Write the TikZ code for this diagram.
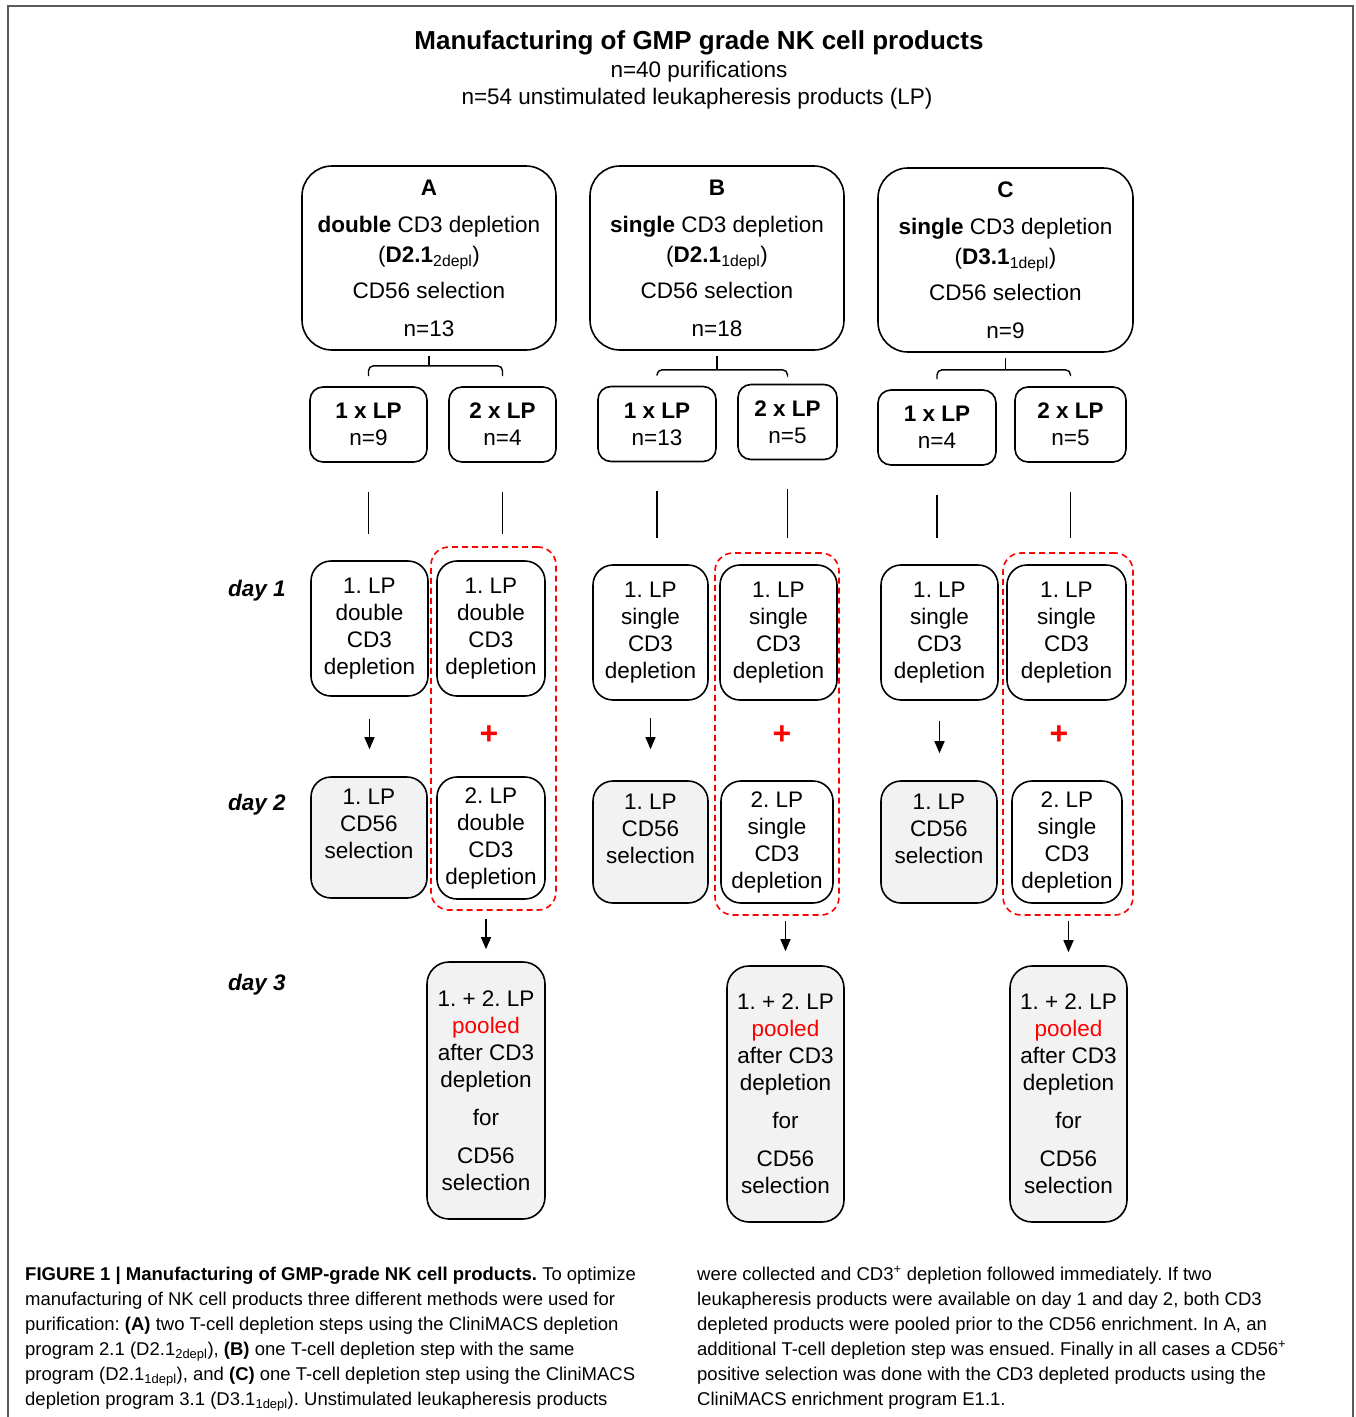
\documentclass[tikz,border=0pt]{standalone}
\usepackage{fontspec}
\setmainfont{Liberation Sans}
\usetikzlibrary{arrows.meta}
\definecolor{boxgrey}{RGB}{242,242,242}
\definecolor{framegrey}{RGB}{90,90,90}
\frenchspacing

\begin{document}
\begin{tikzpicture}[x=1pt, y=-1pt,
    box/.style={draw, line width=1.6pt, align=center, inner sep=0pt, font=\fontsize{22.5}{27}\selectfont},
    topbox/.style={box, rounded corners=30pt},
    lpbox/.style={box, rounded corners=13pt, minimum height=75pt},
    daybox/.style={box, rounded corners=20pt},
    selbox/.style={daybox, fill=boxgrey},
    poolbox/.style={box, rounded corners=22pt, fill=boxgrey},
    pool/.style={draw=red, dash pattern=on 6pt off 4pt, line width=1.6pt, rounded corners=18pt, inner sep=0pt},
    daylabel/.style={font=\fontsize{22.5}{27}\selectfont\bfseries\itshape},
    plus/.style={text=red, font=\fontsize{32}{32}\selectfont\bfseries},
    brk/.style={line width=1.4pt, rounded corners=5pt},
    gap/.style={line width=1.6pt},
    arr/.style={line width=1.4pt, -{Triangle[length=12pt, width=10pt]}},
    title/.style={anchor=base, font=\fontsize{26}{30}\selectfont\bfseries},
    subtitle/.style={anchor=base, font=\fontsize{22.5}{27}\selectfont},
    captext/.style={anchor=base west, inner sep=0pt, font=\fontsize{18.5}{25}\selectfont}
  ]
  \useasboundingbox (0,0) rectangle (1356,1417);

  % Frame
  \draw[framegrey, line width=1.5pt] (8,1417) -- (8,6) -- (1353,6) -- (1353,1417);

  % Title
  \node[title] (title) at (699,49) {Manufacturing of GMP grade NK cell products};
  \node[subtitle] (sub1) at (699,77) {n=40 purifications};
  \node[subtitle] (sub2) at (697,104) {n=54 unstimulated leukapheresis products (LP)};

  % Methods
  \node[topbox, minimum width=254pt, minimum height=184pt] (topA) at (429,258)
    {\textbf{A}\\[10pt]\textbf{double} CD3 depletion\\[3pt](\textbf{D2.1}\textsubscript{2depl})\\[9pt]CD56 selection\\[11pt]n=13};
  \node[topbox, minimum width=254pt, minimum height=184pt] (topB) at (717,258)
    {\textbf{B}\\[10pt]\textbf{single} CD3 depletion\\[3pt](\textbf{D2.1}\textsubscript{1depl})\\[9pt]CD56 selection\\[11pt]n=18};
  \node[topbox, minimum width=255pt, minimum height=184pt] (topC) at (1005.5,260)
    {\textbf{C}\\[10pt]\textbf{single} CD3 depletion\\[3pt](\textbf{D3.1}\textsubscript{1depl})\\[9pt]CD56 selection\\[11pt]n=9};

  % Number of LP
  \node[lpbox, minimum width=117pt] (lpA1) at (368.5,424.5) {\textbf{1 x LP}\\n=9};
  \node[lpbox, minimum width=107pt] (lpA2) at (502.5,424.5) {\textbf{2 x LP}\\n=4};
  \node[lpbox, minimum width=118pt] (lpB1) at (657,424) {\textbf{1 x LP}\\n=13};
  \node[lpbox, minimum width=99pt] (lpB2) at (787.5,422) {\textbf{2 x LP}\\n=5};
  \node[lpbox, minimum width=118pt] (lpC1) at (937,427.5) {\textbf{1 x LP}\\n=4};
  \node[lpbox, minimum width=111pt] (lpC2) at (1070.5,424.5) {\textbf{2 x LP}\\n=5};

  % Brackets
  \foreach \t/\l/\r/\h in {topA/lpA1/lpA2/-15pt, topB/lpB1/lpB2/-19pt, topC/lpC1/lpC2/-17pt} {
    \draw[brk] ([yshift=10pt]\l.north) |- ([yshift=\h]\t.south) -| ([yshift=10pt]\r.north);
    \draw[brk] ([yshift=-5pt]\t.south) -- ([yshift=\h]\t.south);
  }

  % Day labels
  \node[daylabel] (day1) at (257,591) {day 1};
  \node[daylabel] (day2) at (257,805) {day 2};
  \node[daylabel] (day3) at (257,985) {day 3};

  % Red pooling frames
  \node[pool, minimum width=125pt, minimum height=363pt] (poolA) at (493.5,728.5) {};
  \node[pool, minimum width=124pt, minimum height=362pt] (poolB) at (777,734) {};
  \node[pool, minimum width=130pt, minimum height=362pt] (poolC) at (1068,734) {};

  % Day 1
  \node[daybox, minimum width=117pt, minimum height=135pt] (dA1) at (369.5,628.5) {1. LP\\double\\CD3\\depletion};
  \node[daybox, minimum width=108pt, minimum height=135pt] (dA2) at (491,628.5) {1. LP\\double\\CD3\\depletion};
  \node[daybox, minimum width=115pt, minimum height=135pt] (dB1) at (650.5,632.5) {1. LP\\single\\CD3\\depletion};
  \node[daybox, minimum width=117pt, minimum height=135pt] (dB2) at (778.5,632.5) {1. LP\\single\\CD3\\depletion};
  \node[daybox, minimum width=117pt, minimum height=135pt] (dC1) at (939.5,632.5) {1. LP\\single\\CD3\\depletion};
  \node[daybox, minimum width=119pt, minimum height=135pt] (dC2) at (1066.5,632.5) {1. LP\\single\\CD3\\depletion};

  % Day 2
  \node[selbox, minimum width=116pt, minimum height=121pt] (sA1) at (369,837.5) {1. LP\\CD56\\selection\\\mbox{}};
  \node[daybox, minimum width=108pt, minimum height=122pt] (eA2) at (491,838) {2. LP\\double\\CD3\\depletion};
  \node[selbox, minimum width=115pt, minimum height=122pt] (sB1) at (650.5,842) {1. LP\\CD56\\selection\\\mbox{}};
  \node[daybox, minimum width=112pt, minimum height=122pt] (eB2) at (777,842) {2. LP\\single\\CD3\\depletion};
  \node[selbox, minimum width=116pt, minimum height=122pt] (sC1) at (939,842) {1. LP\\CD56\\selection\\\mbox{}};
  \node[daybox, minimum width=110pt, minimum height=122pt] (eC2) at (1067,842) {2. LP\\single\\CD3\\depletion};

  % Plus signs
  \node[plus] (plusA) at (489,735) {+};
  \node[plus] (plusB) at (782,735) {+};
  \node[plus] (plusC) at (1059,735) {+};

  % Day 3
  \node[poolbox, minimum width=118pt, minimum height=257pt] (pA) at (486,1090.5)
    {1. + 2. LP\\\textcolor{red}{pooled}\\after CD3\\depletion\\[11pt]for\\[11pt]CD56\\selection};
  \node[poolbox, minimum width=117pt, minimum height=256pt] (pB) at (785.5,1094)
    {1. + 2. LP\\\textcolor{red}{pooled}\\after CD3\\depletion\\[11pt]for\\[11pt]CD56\\selection};
  \node[poolbox, minimum width=117pt, minimum height=256pt] (pC) at (1068.5,1094)
    {1. + 2. LP\\\textcolor{red}{pooled}\\after CD3\\depletion\\[11pt]for\\[11pt]CD56\\selection};

  % Lines from LP boxes to day 1
  \foreach \a/\b in {lpA1/dA1, lpA2/dA2, lpB1/dB1, lpB2/dB2, lpC1/dC1, lpC2/dC2}
    \draw[gap, shorten <=29pt, shorten >=26pt] (\a.south) -- (\a.south |- \b.north);

  % Arrows day 1 to day 2
  \foreach \a/\b/\s/\e in {dA1/sA1/22pt/27pt, dB1/sB1/17pt/31pt, dC1/sC1/20pt/27pt}
    \draw[arr, shorten <=\s, shorten >=\e] (\a.south) -- (\a.south |- \b.north);

  % Arrows day 2 to day 3
  \foreach \a/\b/\s/\e in {poolA/pA/8pt/12pt, poolB/pB/5pt/14pt, poolC/pC/5pt/13pt}
    \draw[arr, shorten <=\s, shorten >=\e] (\b.north |- \a.south) -- (\b.north);

  % Caption
  \foreach \txt [count=\i from 0] in {
      {\textbf{FIGURE 1 | Manufacturing of GMP-grade NK cell products.} To optimize},
      {manufacturing of NK cell products three different methods were used for},
      {purification: \textbf{(A)} two T-cell depletion steps using the CliniMACS depletion},
      {program 2.1 (D2.1\textsubscript{2depl}), \textbf{(B)} one T-cell depletion step with the same},
      {program (D2.1\textsubscript{1depl}), and \textbf{(C)} one T-cell depletion step using the CliniMACS},
      {depletion program 3.1 (D3.1\textsubscript{1depl}). Unstimulated leukapheresis products}}
    \node[captext] (capL\i) at (25,{1280+25*\i}) {\txt};
  \foreach \txt [count=\i from 0] in {
      {were collected and CD3\textsuperscript{+} depletion followed immediately. If two},
      {leukapheresis products were available on day 1 and day 2, both CD3},
      {depleted products were pooled prior to the CD56 enrichment. In A, an},
      {additional T-cell depletion step was ensued. Finally in all cases a CD56\textsuperscript{+}},
      {positive selection was done with the CD3 depleted products using the},
      {CliniMACS enrichment program E1.1.}}
    \node[captext] (capR\i) at (697,{1280+25*\i}) {\txt};
\end{tikzpicture}
\end{document}
